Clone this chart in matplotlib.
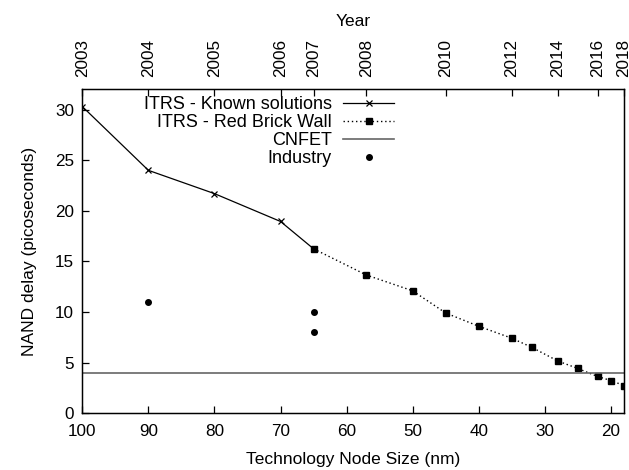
import matplotlib
matplotlib.use("Agg")
import matplotlib.pyplot as plt

plt.rcParams['font.family'] = ['Liberation Sans', 'DejaVu Sans']

known_nm = [100, 90, 80, 70, 65]
known_ps = [30.3, 24.0, 21.7, 18.95, 16.25]

rbw_nm = [65, 57, 50, 45, 40, 35, 32, 28, 25, 22, 20, 18]
rbw_ps = [16.25, 13.66, 12.1, 9.91, 8.6, 7.42, 6.53, 5.16, 4.43, 3.64, 3.24, 2.74]

cnfet_ps = 4.0

industry_nm = [90, 65, 65]
industry_ps = [11.0, 10.0, 8.0]

bottom_ticks = [100, 90, 80, 70, 60, 50, 40, 30, 20]
year_nm = [100, 90, 80, 70, 65, 57, 45, 35, 28, 22, 18]
year_labels = ['2003', '2004', '2005', '2006', '2007', '2008', '2010', '2012', '2014', '2016', '2018']

fig = plt.figure(figsize=(6.29, 4.70), dpi=100)
ax = fig.add_axes([0.1309, 0.1206, 0.8612, 0.6893])

ax.plot(known_nm, known_ps, color='black', lw=0.9, marker='x', ms=5, mew=0.9,
        label='ITRS - Known solutions')
ax.plot(rbw_nm, rbw_ps, color='black', lw=1.0, ls=(0, (1, 2)), marker='s', ms=5,
        label='ITRS - Red Brick Wall')
ax.axhline(cnfet_ps, color='#666666', lw=1.2, label='CNFET')
ax.plot(industry_nm, industry_ps, ls='none', marker='o', ms=4, color='black',
        label='Industry')

ax.set_xlim(100, 18)
ax.set_ylim(0, 32)
ax.set_xticks(bottom_ticks)
ax.set_yticks([0, 5, 10, 15, 20, 25, 30])
ax.tick_params(axis='both', direction='in', length=5, width=0.9, labelsize=12.3,
               top=False, right=False)
ax.tick_params(axis='x', pad=8)
ax.tick_params(axis='y', pad=6)
for s in ax.spines.values():
    s.set_linewidth(1.0)

ax.set_xlabel('Technology Node Size (nm)', fontsize=12.5, labelpad=9)
ax.set_ylabel('NAND delay (picoseconds)', fontsize=12.5, labelpad=13)

ax2 = ax.twiny()
ax2.set_xlim(ax.get_xlim())
ax2.set_xticks(year_nm)
ax2.set_xticklabels(year_labels, rotation=90)
ax2.tick_params(axis='x', direction='in', length=5, width=0.9, labelsize=12.3, pad=9)
ax2.set_xlabel('Year', fontsize=12.5, labelpad=9)

leg = ax.legend(loc='upper right', frameon=False,
                markerfirst=False, fontsize=13, handlelength=2.8,
                labelspacing=0.05, borderaxespad=0.0, handletextpad=0.65,
                borderpad=0.0)
# right edge of legend samples near x ~ 393 px, first row near y ~ 104 px
leg.set_bbox_to_anchor((0.575, 0.978), transform=ax.transAxes)

fig.savefig('out.png', dpi=100)
